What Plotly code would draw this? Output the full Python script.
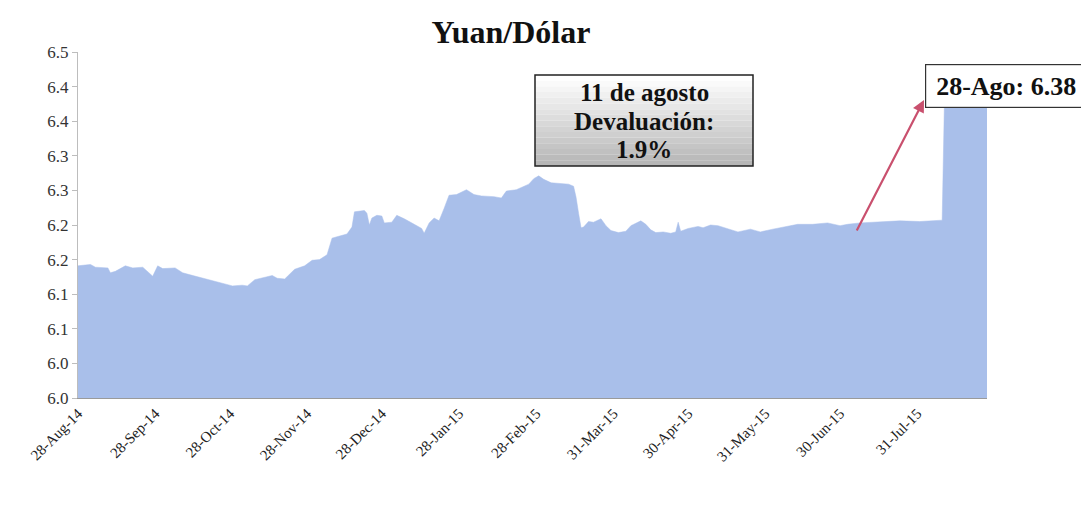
import plotly.graph_objects as go

# ---- data ----
dates = [
    "2014-08-28", "2014-09-02", "2014-09-04", "2014-09-09", "2014-09-10", "2014-09-12",
    "2014-09-16", "2014-09-19", "2014-09-23", "2014-09-25", "2014-09-27", "2014-09-29",
    "2014-10-01", "2014-10-06", "2014-10-09", "2014-10-12", "2014-10-15", "2014-10-19",
    "2014-10-22", "2014-10-26", "2014-10-29", "2014-11-02", "2014-11-04", "2014-11-07",
    "2014-11-11", "2014-11-14", "2014-11-16", "2014-11-19", "2014-11-23", "2014-11-27",
    "2014-11-30", "2014-12-03", "2014-12-06", "2014-12-08", "2014-12-10", "2014-12-14",
    "2014-12-16", "2014-12-17", "2014-12-21", "2014-12-22", "2014-12-23", "2014-12-24",
    "2014-12-26", "2014-12-28", "2014-12-29", "2015-01-01", "2015-01-03", "2015-01-06",
    "2015-01-10", "2015-01-13", "2015-01-14", "2015-01-16", "2015-01-18", "2015-01-20",
    "2015-01-22", "2015-01-24", "2015-01-27", "2015-01-31", "2015-02-03", "2015-02-06",
    "2015-02-11", "2015-02-14", "2015-02-16", "2015-02-20", "2015-02-25", "2015-02-27",
    "2015-03-01", "2015-03-03", "2015-03-06", "2015-03-10", "2015-03-13", "2015-03-15",
    "2015-03-16", "2015-03-17", "2015-03-18", "2015-03-19", "2015-03-21", "2015-03-23",
    "2015-03-26", "2015-03-28", "2015-03-30", "2015-04-02", "2015-04-05", "2015-04-07",
    "2015-04-11", "2015-04-13", "2015-04-15", "2015-04-17", "2015-04-20", "2015-04-23",
    "2015-04-25", "2015-04-26", "2015-04-27", "2015-04-30", "2015-05-04", "2015-05-06",
    "2015-05-09", "2015-05-12", "2015-05-16", "2015-05-20", "2015-05-25", "2015-05-29",
    "2015-06-03", "2015-06-09", "2015-06-13", "2015-06-19", "2015-06-25", "2015-06-30",
    "2015-07-03", "2015-07-08", "2015-07-16", "2015-07-24", "2015-08-01", "2015-08-10",
    "2015-08-11", "2015-08-13", "2015-08-16", "2015-08-21", "2015-08-23", "2015-08-25",
    "2015-08-26", "2015-08-27", "2015-08-28",
]
yuan_usd = [
    6.141, 6.143, 6.139, 6.138, 6.131, 6.133,
    6.141, 6.138, 6.139, 6.133, 6.126, 6.141,
    6.137, 6.138, 6.131, 6.128, 6.125, 6.121,
    6.118, 6.115, 6.112, 6.113, 6.112, 6.121,
    6.124, 6.127, 6.123, 6.122, 6.136, 6.141,
    6.149, 6.150, 6.157, 6.181, 6.183, 6.187,
    6.197, 6.219, 6.221, 6.217, 6.200, 6.210,
    6.214, 6.213, 6.203, 6.204, 6.214, 6.209,
    6.201, 6.195, 6.188, 6.203, 6.210, 6.206,
    6.224, 6.243, 6.244, 6.251, 6.244, 6.242,
    6.241, 6.239, 6.249, 6.251, 6.259, 6.267,
    6.271, 6.266, 6.261, 6.260, 6.259, 6.256,
    6.240, 6.217, 6.196, 6.197, 6.205, 6.204,
    6.209, 6.199, 6.192, 6.189, 6.191, 6.199,
    6.206, 6.201, 6.193, 6.189, 6.190, 6.188,
    6.190, 6.204, 6.191, 6.195, 6.198, 6.196,
    6.200, 6.199, 6.194, 6.190, 6.194, 6.190,
    6.194, 6.198, 6.201, 6.201, 6.203, 6.199,
    6.201, 6.203, 6.204, 6.206, 6.205, 6.207,
    6.396, 6.398, 6.397, 6.398, 6.392, 6.410,
    6.412, 6.404, 6.395,
]

x_tick_dates = ["2014-08-28", "2014-09-28", "2014-10-28", "2014-11-28", "2014-12-28",
                "2015-01-28", "2015-02-28", "2015-03-31", "2015-04-30", "2015-05-31",
                "2015-06-30", "2015-07-31"]
x_tick_labels = ["28-Aug-14", "28-Sep-14", "28-Oct-14", "28-Nov-14", "28-Dec-14",
                 "28-Jan-15", "28-Feb-15", "31-Mar-15", "30-Apr-15", "31-May-15",
                 "30-Jun-15", "31-Jul-15"]
y_tick_vals = [5.95, 6.00, 6.05, 6.10, 6.15, 6.20, 6.25, 6.30, 6.35, 6.40, 6.45]
y_tick_labels = ["6.0", "6.0", "6.1", "6.1", "6.2", "6.2", "6.3", "6.3", "6.4", "6.4", "6.5"]

title_text = "Yuan/Dólar"
box_lines = ["11 de agosto", "Devaluación:", "1.9%"]
end_label = "28-Ago: 6.38"

# ---- layout geometry (window pixels; the page body adds an 8px offset) ----
WIN_W, WIN_H, OFF = 1089, 513, 8
W, H = WIN_W - OFF, WIN_H - OFF
L, R, T, B = 78, 987, 52, 398
SERIF = "Liberation Serif, Times New Roman, serif"


def px(x):
    return (x - L) / (R - L)


def py(y):
    return (B - y) / (B - T)


fig = go.Figure()
fig.add_trace(go.Scatter(
    x=dates, y=yuan_usd, mode="lines",
    line=dict(color="#a9bfea", width=0.5),
    fill="tozeroy", fillcolor="#a9bfea",
    hoverinfo="x+y", showlegend=False,
))

shapes = []
# gradient box for the devaluation note
bx0, bx1, by0, by1 = 535, 753, 75, 166
n = 16
for i in range(n):
    t = i / (n - 1)
    g = int(255 - t * 72)
    ya = by0 + (by1 - by0) * i / n
    yb = by0 + (by1 - by0) * (i + 1) / n
    shapes.append(dict(type="rect", xref="paper", yref="paper",
                       x0=px(bx0), x1=px(bx1), y0=py(ya), y1=py(yb),
                       fillcolor=f"rgb({g},{g},{g})", line=dict(width=0), layer="above"))
shapes.append(dict(type="rect", xref="paper", yref="paper",
                   x0=px(bx0), x1=px(bx1), y0=py(by0), y1=py(by1),
                   fillcolor="rgba(0,0,0,0)", line=dict(color="#222", width=1.5), layer="above"))

annotations = []
for i, line_txt in enumerate(box_lines):
    annotations.append(dict(
        text=f"<b>{line_txt}</b>", xref="paper", yref="paper",
        x=px(644), y=py(93 + i * 28), xanchor="center", yanchor="middle",
        showarrow=False, font=dict(family=SERIF, size=25, color="#111"),
    ))
annotations.append(dict(
    text=f"<b>{end_label}</b>", xref="paper", yref="paper",
    x=px(1006), y=py(86), xanchor="center", yanchor="middle",
    showarrow=False, font=dict(family=SERIF, size=26, color="#111"),
    bgcolor="white", bordercolor="#333", borderwidth=1.2, borderpad=3,
    width=154, height=36,
))
annotations.append(dict(
    text="", xref="paper", yref="paper",
    x=px(924), y=py(100), ax=-68, ay=132,
    showarrow=True, arrowhead=2, arrowsize=1.1, arrowwidth=2.2, arrowcolor="#c9506e",
))

fig.update_layout(
    width=W, height=H,
    margin=dict(l=L - OFF, r=WIN_W - R, t=T - OFF, b=WIN_H - B, autoexpand=False),
    paper_bgcolor="white", plot_bgcolor="white",
    title=dict(text=f"<b>{title_text}</b>", x=(511 - OFF) / W, xref="container",
               y=1 - (32 - OFF) / H, yref="container", xanchor="center", yanchor="middle",
               font=dict(family=SERIF, size=32, color="#111")),
    xaxis=dict(
        type="date", range=["2014-08-28", "2015-08-28"],
        tickvals=x_tick_dates, ticktext=x_tick_labels, tickangle=-45,
        showgrid=False, zeroline=False, showline=True, linecolor="#9a9a9a", linewidth=1,
        ticks="", tickfont=dict(family=SERIF, size=15, color="#222"), automargin=False,
    ),
    yaxis=dict(
        range=[5.95, 6.45], tickvals=y_tick_vals, ticktext=y_tick_labels,
        showgrid=False, zeroline=False, showline=True, linecolor="#bdbdbd", linewidth=1,
        ticks="outside", ticklen=5, tickcolor="#bdbdbd",
        tickfont=dict(family=SERIF, size=17, color="#333"), automargin=False,
    ),
    shapes=shapes, annotations=annotations,
)

fig.write_html("out.html")
